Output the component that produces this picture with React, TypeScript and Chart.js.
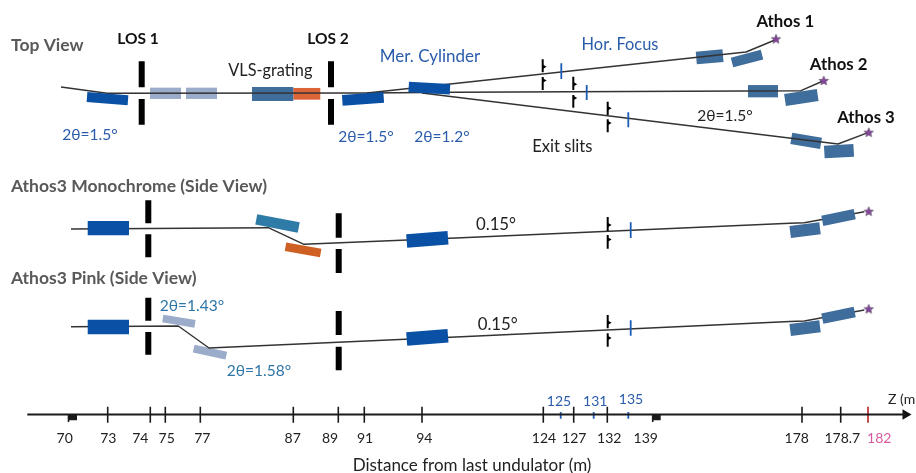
import React, { useEffect, useRef } from "react";
import { Chart, registerables } from "chart.js";

Chart.register(...registerables);

// Beam paths [x, y] in the drawing's coordinates
const beamTopIn = [[61, 87], [107, 93.3], [367, 93]];
const beamAthos1 = [[367, 93], [746, 52], [775, 40]];
const beamAthos2 = [[367, 93], [456, 92.3], [801, 90.7], [823, 81]];
const beamAthos3 = [[422, 93], [838, 144], [868, 132.7]];
const beamMono = [[71, 229], [268.3, 227.7], [304, 244.3], [456, 238], [790, 223.2], [804.3, 222.7], [864.3, 211.7]];
const beamPink = [[71, 326.7], [178.3, 326], [209, 348], [456, 337], [790, 321.5], [804.3, 321], [864.3, 310]];

// Optics as [x1, y1, x2, y2]
const darkMirrors = [
  [87, 97, 128, 100.3], [342.3, 100.3, 383.7, 97.3], [408.7, 87, 450, 89.3],
  [87.7, 228.1, 129, 228.1], [406.7, 241, 448, 237.8],
  [87.7, 327, 129, 327], [406.7, 339, 448, 335.7],
];
const steelMirrors = [
  [252, 94, 293.3, 94], [696.3, 58, 723, 55.7], [732, 62.5, 762, 54.7],
  [748, 91.2, 778, 91.2], [785, 100, 817.7, 95], [791.3, 138.3, 821, 143.3],
  [824.3, 152, 853.7, 150.3], [790.2, 232, 820, 228.3], [790.2, 330, 820, 326.3],
];
const steelFrontMirrors = [[822.3, 220.8, 854.7, 214.2], [822.3, 318.7, 854.7, 312]];
const paleMirrors = [
  [150, 93.3, 181, 93.3], [186, 93.3, 217, 93.3],
  [162.8, 318.5, 195, 323.8], [193.7, 348.7, 226.3, 355.7],
];
const orangeMirrors = [[293.3, 93.8, 320.3, 93.8], [285.5, 246.8, 320.7, 253]];
const tealMirrors = [[256.3, 219.3, 298.7, 227.5]];

const losBars = [
  [141.7, 61.3, 141.7, 87.3], [141.7, 99, 141.7, 124.7],
  [331, 61.3, 331, 87.3], [331, 99, 331, 124.7],
  [148.3, 200.3, 148.3, 223.3], [148.3, 234.3, 148.3, 257.3],
  [338.7, 213.3, 338.7, 237.7], [338.7, 249, 338.7, 273],
  [148.3, 297.7, 148.3, 320.7], [148.3, 332, 148.3, 354.7],
  [338.7, 311, 338.7, 335], [338.7, 346.7, 338.7, 370.3],
];
const slitBlades = [
  [542.7, 59.3, 542.7, 72.3], [542.7, 77, 542.7, 90],
  [573.3, 76.7, 573.3, 90], [573.3, 95, 573.3, 107.7],
  [607.7, 101.7, 607.7, 115], [607.7, 119.3, 607.7, 132.3],
  [607.7, 217, 607.7, 231], [607.7, 235, 607.7, 248.7],
  [607.7, 315, 607.7, 328.3], [607.7, 333.3, 607.7, 346.7],
];
const slitNotches = [
  [544, 66.7], [544, 80.5], [574.6, 84.3], [574.6, 98], [609, 108.3], [609, 123],
  [609, 225], [609, 239.6], [609, 322.7], [609, 338],
];
const focusMarks = [
  [561.3, 63.3, 561.3, 79], [586.7, 85, 586.7, 100], [628.3, 112.3, 628.3, 127.3],
  [630.7, 222.3, 630.7, 238], [630.7, 320.3, 630.7, 335.7],
];
const sources = [[776, 39.3], [823.7, 81], [868.7, 132.7], [868.7, 211.7], [868.7, 309.3]];

// Distance axis
const axisLine = [[27.3, 414.5], [905, 414.5]];
const axisArrow = [[905.5, 414.5]];
const axisTicks = [107.7, 150.3, 165.3, 200.3, 293.3, 338.3, 364.3, 422, 543.3, 573.7, 607.3, 802, 840.7];
const axisRedTicks = [868];
const axisBlueTicks = [560.7, 593.7, 628.3];
const axisFlags = [[68.5, 77], [652.7, 660.7]];
const axisLabels = ["70", "73", "74", "75", "77", "87", "89", "91", "94", "124", "127", "132", "139", "178", "178.7"];
const axisLabelX = [64.7, 108.3, 140.3, 166.7, 202.3, 292.7, 330, 365, 424.3, 544, 574.3, 609.3, 645.7, 796.7, 842.3];
const axisBlueLabels = ["125", "131", "135"];
const axisBlueLabelX = [559, 595.3, 631];
const axisBlueLabelY = [400, 400, 398.3];

// Free-standing captions: text, x, y
const boldGrey = [["Top View", 11, 44], ["Athos3 Monochrome (Side View)", 11, 185], ["Athos3 Pink (Side View)", 11, 277.7]];
const boldBlack = [["LOS 1", 138, 38], ["LOS 2", 328, 38], ["Athos 1", 785.3, 21], ["Athos 2", 838.7, 63.3], ["Athos 3", 866, 117]];
const boldBlackSize = [15.5, 15.5, 16.8, 16.8, 16.8];
const plainBlack = [["VLS-grating", 270.3, 70], ["2θ=1.5°", 725, 115], ["Exit slits", 562.3, 146], ["0.15°", 496, 224], ["0.15°", 497.7, 323.3], ["Distance from last undulator (m)", 472, 464.3]];
const plainBlackSize = [16.3, 15.5, 16.6, 16.8, 16.8, 17];
const plainBlue = [["Mer. Cylinder", 430, 56], ["Hor. Focus", 620, 44], ["2θ=1.5°", 90, 133.7], ["2θ=1.5°", 366, 136], ["2θ=1.2°", 442, 136]];
const plainBlueSize = [17, 16.4, 15.5, 15.5, 15.5];
const plainTeal = [["2θ=1.43°", 192, 305], ["2θ=1.58°", 259, 370]];

const FONT = "Lato, 'Open Sans', sans-serif";

function makeStar(): HTMLCanvasElement {
  const c = document.createElement("canvas");
  c.width = 12;
  c.height = 12;
  const g = c.getContext("2d")!;
  g.fillStyle = "#84479b";
  g.strokeStyle = "#4a3a55";
  g.lineWidth = 0.5;
  g.beginPath();
  for (let i = 0; i < 10; i++) {
    const r = i % 2 === 0 ? 5 : 2.2;
    const a = -Math.PI / 2 + (i * Math.PI) / 5;
    g.lineTo(6 + r * Math.cos(a), 6 + r * Math.sin(a));
  }
  g.closePath();
  g.fill();
  g.stroke();
  return c;
}

const seg = (s: number[], color: string, width: number, order: number, cap: CanvasLineCap = "butt") => ({
  type: "scatter" as const,
  data: [{ x: s[0], y: s[1] }, { x: s[2], y: s[3] }],
  showLine: true,
  borderColor: color,
  backgroundColor: color,
  borderWidth: width,
  borderCapStyle: cap,
  pointRadius: 0,
  order,
  clip: false as const,
});
const path = (p: number[][], color: string, width: number, order: number) => ({
  type: "scatter" as const,
  data: p.map(([x, y]) => ({ x, y })),
  showLine: true,
  borderColor: color,
  borderWidth: width,
  pointRadius: 0,
  borderJoinStyle: "round" as const,
  order,
  clip: false as const,
});

const darkThick = [10, 10.7, 10.5, 14.3, 13.5, 14.7, 13.5];
const steelThick = [14, 12.7, 10, 12.3, 12, 11.5, 12.7, 12, 12];
const paleThick = [11.3, 11.3, 7.8, 8];
const orangeThick = [11.7, 8.5];

const captionsPlugin = {
  id: "captions",
  afterDraw(chart: any) {
    const { ctx, scales } = chart;
    const put = (t: string, x: number, y: number, color: string, font: string, align: CanvasTextAlign) => {
      ctx.fillStyle = color;
      ctx.font = font;
      ctx.textAlign = align;
      ctx.textBaseline = "middle";
      ctx.fillText(t, scales.x.getPixelForValue(x), scales.y.getPixelForValue(y) + 1);
    };
    ctx.save();
    boldGrey.forEach(([t, x, y]) => put(t as string, x as number, y as number, "#595959", `bold 17.5px ${FONT}`, "left"));
    boldBlack.forEach(([t, x, y], i) => put(t as string, x as number, y as number, "#111", `bold ${boldBlackSize[i]}px ${FONT}`, "center"));
    plainBlack.forEach(([t, x, y], i) => put(t as string, x as number, y as number, "#222", `${plainBlackSize[i]}px ${FONT}`, "center"));
    plainBlue.forEach(([t, x, y], i) => put(t as string, x as number, y as number, "#2a5cab", `${plainBlueSize[i]}px ${FONT}`, "center"));
    plainTeal.forEach(([t, x, y]) => put(t as string, x as number, y as number, "#2e75a8", `15.5px ${FONT}`, "center"));
    axisLabels.forEach((t, i) => put(t, axisLabelX[i], 437.3, "#222", `14px ${FONT}`, "center"));
    axisBlueLabels.forEach((t, i) => put(t, axisBlueLabelX[i], axisBlueLabelY[i], "#2a5cab", `14px ${FONT}`, "center"));
    put("182", 879.3, 437.3, "#d85ba0", `14px ${FONT}`, "center");
    put("Z (m", 888, 398.5, "#222", `14px ${FONT}`, "left");
    ctx.restore();
  },
};

export default function App() {
  const ref = useRef<HTMLCanvasElement>(null);
  useEffect(() => {
    const star = makeStar();
    const datasets: any[] = [
      ...darkMirrors.map((s, i) => seg(s, "#0a50a4", darkThick[i], 1)),
      ...steelFrontMirrors.map((s) => seg(s, "#3f6d9c", 10.5, 1)),
      ...[beamTopIn, beamAthos1, beamAthos2, beamAthos3, beamMono, beamPink].map((p) => path(p, "#333", 1.4, 2)),
      ...steelMirrors.map((s, i) => seg(s, "#3f6d9c", steelThick[i], 3)),
      ...paleMirrors.map((s, i) => seg(s, "#9bacca", paleThick[i], 3)),
      ...orangeMirrors.map((s, i) => seg(s, i === 0 ? "#dd6437" : "#cf6024", orangeThick[i], 3)),
      ...tealMirrors.map((s) => seg(s, "#2e7ba8", 10.5, 3)),
      ...losBars.map((s) => seg(s, "#000", 6, 0)),
      ...slitBlades.map((s) => seg(s, "#000", 2, 0)),
      {
        type: "scatter",
        data: slitNotches.map(([x, y]) => ({ x, y })),
        pointStyle: "triangle",
        rotation: 90,
        pointRadius: 2.6,
        backgroundColor: "#000",
        borderWidth: 0,
        order: 0,
        clip: false,
      },
      ...focusMarks.map((s) => seg(s, "#1b5cb5", 1.8, 0)),
      {
        type: "scatter",
        data: sources.map(([x, y]) => ({ x, y })),
        pointStyle: star,
        order: 0,
        clip: false,
      },
      path(axisLine, "#1a1a1a", 2, 0),
      {
        type: "scatter",
        data: axisArrow.map(([x, y]) => ({ x, y })),
        pointStyle: "triangle",
        rotation: 90,
        pointRadius: 6,
        backgroundColor: "#111",
        borderWidth: 0,
        order: 0,
        clip: false,
      },
      ...axisTicks.map((x) => seg([x, 406.7, x, 422.7], "#1a1a1a", 1.6, 0)),
      ...axisRedTicks.map((x) => seg([x, 406.7, x, 422.7], "#c0393b", 1.8, 0)),
      ...axisBlueTicks.map((x) => seg([x, 412, x, 418.7], "#1b5cb5", 1.8, 0)),
      ...axisFlags.flatMap(([a, b]) => [
        seg([a, 414.5, a, 422], "#1a1a1a", 1.6, 0),
        seg([a, 417.5, b, 417.5], "#1a1a1a", 5.5, 0),
      ]),
    ];
    const chart = new Chart(ref.current!, {
      type: "scatter",
      data: { datasets },
      options: {
        animation: false,
        responsive: false,
        devicePixelRatio: 1,
        layout: { padding: 0, autoPadding: false },
        plugins: { legend: { display: false }, tooltip: { enabled: false }, title: { display: false } },
        scales: {
          x: { type: "linear", min: 0, max: 916, display: false },
          y: { type: "linear", min: 0, max: 473, reverse: true, display: false },
        },
      },
      plugins: [captionsPlugin],
    } as any);
    return () => chart.destroy();
  }, []);
  return (
    <div style={{ position: "fixed", left: 0, top: 0, width: 916, height: 473, background: "#fff", overflow: "hidden" }}>
      <canvas ref={ref} width={916} height={473} style={{ display: "block", filter: "blur(0.35px)" }} />
    </div>
  );
}
